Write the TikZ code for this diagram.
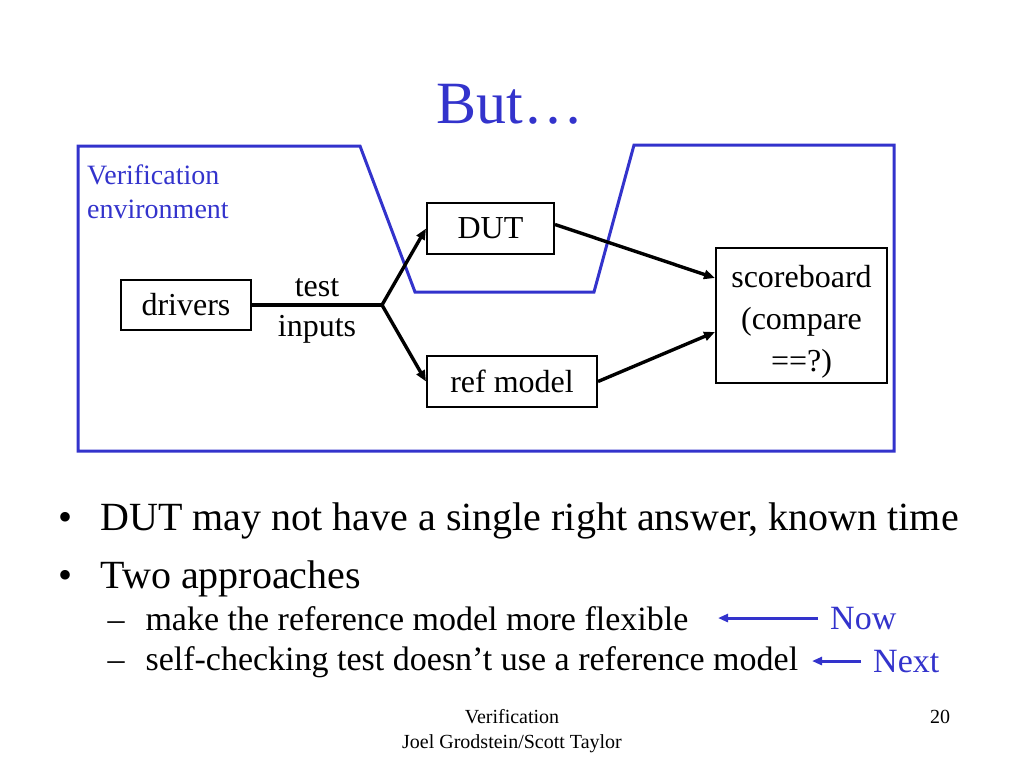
\documentclass[tikz,border=0pt]{standalone}
\usepackage{fontspec}
\setmainfont{Liberation Serif}
\usetikzlibrary{arrows.meta, positioning}
\definecolor{slideblue}{RGB}{51,51,204}

\tikzset{
  box/.style={draw, line width=2pt, inner sep=0pt, align=center,
              font=\fontsize{32}{42}\selectfont},
  flow/.style={line width=3.4pt, -{Triangle[length=11pt, width=9pt]}},
  note/.style={line width=3pt, slideblue, -{Triangle[length=10pt, width=8pt]}},
  big/.style={font=\fontsize{40}{46}\selectfont},
  small/.style={font=\fontsize{34}{40}\selectfont}
}

\begin{document}
\begin{tikzpicture}[x=1pt, y=-1pt]

\useasboundingbox (0,0) rectangle (1024,768);

\node[anchor=base, text=slideblue, font=\fontsize{60}{66}\selectfont] (title) at (510,123) {But…};

\draw[slideblue, line width=3pt] (78,146) -- (360,146) -- (415,292) -- (594,292)
  -- (634,145) -- (894,145) -- (894,451) -- (78,451) -- cycle;
\node[anchor=north west, inner sep=0pt, align=left, text=slideblue,
      font=\fontsize{28}{34}\selectfont] (env) at (87,165) {Verification\\environment};

\node[box, minimum width=130pt, minimum height=50pt] (drivers) at (186,305) {drivers};
\node[box, minimum width=127pt, minimum height=51pt] (dut) at (490.5,228.5) {DUT};
\node[box, minimum width=170pt, minimum height=51pt] (ref) at (512,381.5) {ref model};
\node[box, minimum width=171pt, minimum height=135pt] (sb) at (801.5,315.5)
  {\rule{0pt}{34pt}scoreboard\\(compare\\==?)};
\coordinate (split) at (382,305);

\draw[line width=3.4pt] (drivers.east) -- (split)
  node[midway, above, inner sep=6.5pt, font=\fontsize{32}{38}\selectfont] {test}
  node[midway, below, inner sep=9pt, font=\fontsize{32}{38}\selectfont] {inputs};
\draw[flow] (split) -- (dut.west);
\draw[flow] (split) -- (ref.west);
\draw[flow] ([yshift=4pt]dut.east) -- ([yshift=37.5pt]sb.west);
\draw[flow] (ref.east) -- ([yshift=-16.5pt]sb.west);

\node[anchor=base west, big] (dot1) at (55,530) {•};
\node[anchor=base west, big] (item1) at (97,530) {DUT may not have a single right answer, known time};
\node[anchor=base west, big] (dot2) at (55,588) {•};
\node[anchor=base west, big] (item2) at (97,588) {Two approaches};
\node[anchor=base west, small] (dash1) at (104,630) {–};
\node[anchor=base west, small] (sub1) at (142,630) {make the reference model more flexible};
\node[anchor=base west, small] (dash2) at (104,670) {–};
\node[anchor=base west, small] (sub2) at (142,670) {self-checking test doesn’t use a reference model};

\node[anchor=base west, small, text=slideblue, inner sep=0pt] (now) at (830,629) {Now};
\node[anchor=base west, small, text=slideblue, inner sep=0pt] (next) at (873,672) {Next};
\coordinate (nowtip) at (718,617);
\coordinate (nexttip) at (812,658);
\draw[note] ([xshift=-12pt]now.west) -- (nowtip |- now.west);
\draw[note] ([xshift=-12pt]next.west) -- (nexttip |- next.west);

\node[anchor=north, inner sep=0pt, align=center, font=\fontsize{20}{25}\selectfont] (footer)
  at (512,709) {Verification\\Joel Grodstein/Scott Taylor};
\node[anchor=base, font=\fontsize{20}{25}\selectfont] (page) at (940,723) {20};

\end{tikzpicture}
\end{document}
